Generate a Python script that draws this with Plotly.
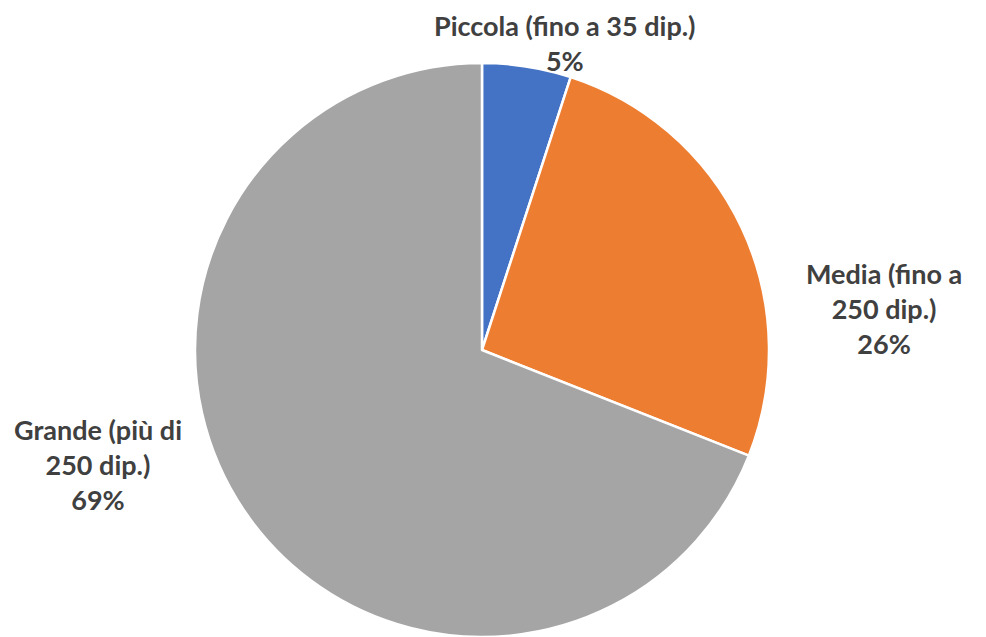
import plotly.graph_objects as go

categories = ["Piccola (fino a 35 dip.)", "Media (fino a 250 dip.)", "Grande (più di 250 dip.)"]
label_lines = ["Piccola (fino a 35 dip.)", "Media (fino a<br>250 dip.)", "Grande (più di<br>250 dip.)"]
values = [5, 26, 69]
colors = ["#4472C4", "#ED7D31", "#A5A5A5"]
# label block centres in page pixels (x, y from top)
label_pos = [(565, 43), (884, 308), (98, 464)]

OFF = 8  # default page body margin
W, H = 986 - OFF, 637 - OFF


def px_x(p):
    return (p - OFF) / W


def px_y(p):
    return 1 - (p - OFF) / H


fig = go.Figure(go.Pie(
    labels=categories,
    values=values,
    sort=False,
    direction="clockwise",
    rotation=0,
    marker=dict(colors=colors, line=dict(color="white", width=2.5)),
    textinfo="none",
    hoverinfo="label+percent",
    showlegend=False,
    domain=dict(x=[px_x(195), px_x(769)], y=[0, px_y(63)]),
))

total = sum(values)
for txt, v, (px, py) in zip(label_lines, values, label_pos):
    fig.add_annotation(
        x=px_x(px), y=px_y(py), xref="paper", yref="paper",
        text=f"{txt}<br>{round(100 * v / total)}%",
        showarrow=False, xanchor="center", yanchor="middle", align="center",
        borderpad=0,
        font=dict(family="Lato", size=27, color="#404040", weight="bold"),
    )

fig.update_layout(
    width=W, height=H,
    margin=dict(l=0, r=0, t=0, b=0),
    paper_bgcolor="white", plot_bgcolor="white",
)

fig.write_html("out.html")
